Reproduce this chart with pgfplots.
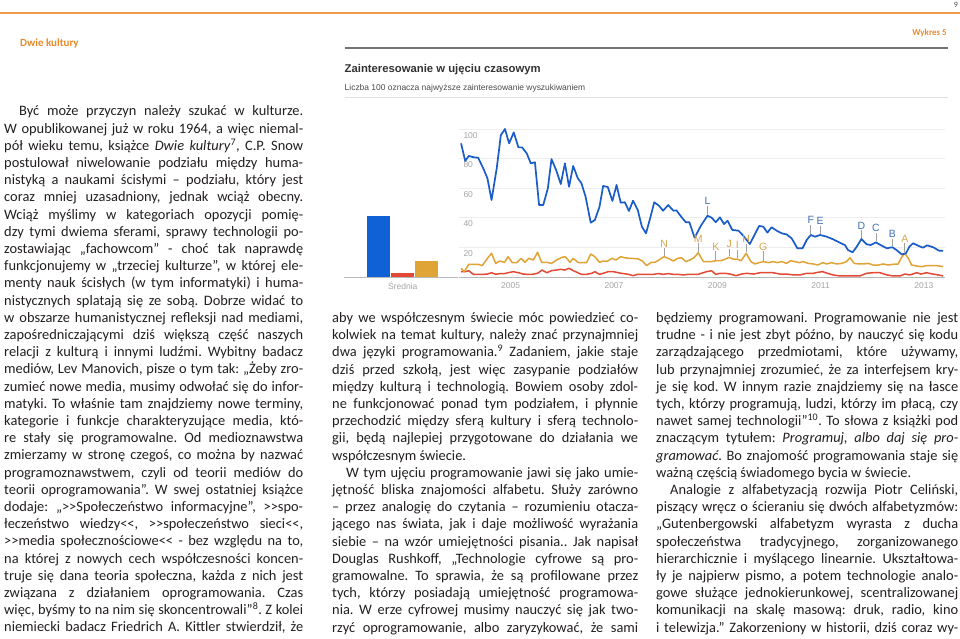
\documentclass[border=0pt]{standalone}
\usepackage{fontspec}
\usepackage{pgfplots}
\pgfplotsset{compat=1.18}
\setmainfont{Carlito}
\newfontfamily\arial{Liberation Sans}
\definecolor{gblue}{HTML}{1A5CC8}
\definecolor{gbar}{HTML}{1060D6}
\definecolor{gred}{HTML}{E24A36}
\definecolor{gorange}{HTML}{E0A336}
\definecolor{hdrorange}{HTML}{EE9A4A}
\definecolor{hdrtext}{HTML}{E98B2A}
\definecolor{gridgray}{HTML}{EDEDED}
\definecolor{basegray}{HTML}{B8B8B8}
\definecolor{labgray}{HTML}{A5A5A5}
\definecolor{blueann}{HTML}{4470B4}
\definecolor{orann}{HTML}{D8A550}
\definecolor{stemgray}{HTML}{A0A0A0}
\definecolor{bodytext}{HTML}{231F20}
\newcommand\RR{>\kern0pt>}
\newcommand\LL{<\kern0pt<}
\newcommand\JL[1]{\makebox[\linewidth][s]{#1}\par}
\newcommand\PL[1]{\makebox[\linewidth][l]{#1}\par}
\newcommand\bodyfont{\fontsize{14.4}{17.2}\selectfont\frenchspacing\spaceskip=0.226em plus 0.3em minus 0.12em\relax}
\begin{document}
\begin{tikzpicture}
\begin{scope}[x=1pt,y=1pt]
\path[use as bounding box, fill=white] (0,0) rectangle (960,638);
% header
\draw[hdrorange, line width=1.6pt] (0,624.7) -- (960,624.7);
\node[anchor=east, inner sep=0, font=\fontsize{8}{9}\selectfont, text=black!70] at (958,633) {9};
\node[anchor=east, inner sep=0, font=\bfseries\fontsize{9}{10}\selectfont, text=hdrtext] at (947,604.7) {Wykres 5};
\node[anchor=west, inner sep=0, font=\bfseries\fontsize{11}{12}\selectfont, text=hdrtext] at (20,594.7) {Dwie kultury};
\draw[black!55, line width=1.6pt] (344.5,590) -- (948,590);
\node[anchor=west, inner sep=0, font=\arial\bfseries\fontsize{11.3}{13}\selectfont, text=black!80] at (344.5,568) {Zainteresowanie w ujęciu czasowym};
\node[anchor=west, inner sep=0, font=\arial\fontsize{8.45}{10}\selectfont, text=black!70] at (344.5,549.7) {Liczba 100 oznacza najwyższe zainteresowanie wyszukiwaniem};
\draw[black!12, line width=0.8pt] (344.5,540.3) -- (948,540.3);

% body text: left column
\node[anchor=base west, inner sep=0, text=bodytext] at (4,522) {\parbox[t]{299pt}{\bodyfont
\JL{\hspace*{15pt}Być może przyczyn należy szukać w kulturze.}
\JL{W opublikowanej już w roku 1964, a więc niemal-}
\JL{pół wieku temu, książce \textit{Dwie kultury}\textsuperscript{7}, C.P. Snow}
\JL{postulował niwelowanie podziału między huma-}
\JL{nistyką a naukami ścisłymi – podziału, który jest}
\JL{coraz mniej uzasadniony, jednak wciąż obecny.}
\JL{Wciąż myślimy w kategoriach opozycji pomię-}
\JL{dzy tymi dwiema sferami, sprawy technologii po-}
\JL{zostawiając „fachowcom” - choć tak naprawdę}
\JL{funkcjonujemy w „trzeciej kulturze”, w której ele-}
\JL{menty nauk ścisłych (w tym informatyki) i huma-}
\JL{nistycznych splatają się ze sobą. Dobrze widać to}
\JL{w obszarze humanistycznej refleksji nad mediami,}
\JL{zapośredniczającymi dziś większą część naszych}
\JL{relacji z kulturą i innymi ludźmi. Wybitny badacz}
\JL{mediów, Lev Manovich, pisze o tym tak: „Żeby zro-}
\JL{zumieć nowe media, musimy odwołać się do infor-}
\JL{matyki. To właśnie tam znajdziemy nowe terminy,}
\JL{kategorie i funkcje charakteryzujące media, któ-}
\JL{re stały się programowalne. Od medioznawstwa}
\JL{zmierzamy w stronę czegoś, co można by nazwać}
\JL{programoznawstwem, czyli od teorii mediów do}
\JL{teorii oprogramowania”. W swej ostatniej książce}
\JL{dodaje: „\RR Społeczeństwo informacyjne”, \RR spo-}
\JL{łeczeństwo wiedzy\LL, \RR społeczeństwo sieci\LL,}
\JL{\RR media społecznościowe\LL{} - bez względu na to,}
\JL{na której z nowych cech współczesności koncen-}
\JL{truje się dana teoria społeczna, każda z nich jest}
\JL{związana z działaniem oprogramowania. Czas}
\JL{więc, byśmy to na nim się skoncentrowali”\textsuperscript{8}. Z kolei}
\JL{niemiecki badacz Friedrich A. Kittler stwierdził, że}
}};

% middle column
\node[anchor=base west, inner sep=0, text=bodytext] at (332,315.6) {\parbox[t]{306pt}{\bodyfont
\JL{aby we współczesnym świecie móc powiedzieć co-}
\JL{kolwiek na temat kultury, należy znać przynajmniej}
\JL{dwa języki programowania.\textsuperscript{9} Zadaniem, jakie staje}
\JL{dziś przed szkołą, jest więc zasypanie podziałów}
\JL{między kulturą i technologią. Bowiem osoby zdol-}
\JL{ne funkcjonować ponad tym podziałem, i płynnie}
\JL{przechodzić między sferą kultury i sferą technolo-}
\JL{gii, będą najlepiej przygotowane do działania we}
\PL{współczesnym świecie.}
\JL{\hspace*{14pt}W tym ujęciu programowanie jawi się jako umie-}
\JL{jętność bliska znajomości alfabetu. Służy zarówno}
\JL{– przez analogię do czytania – rozumieniu otacza-}
\JL{jącego nas świata, jak i daje możliwość wyrażania}
\JL{siebie – na wzór umiejętności pisania.. Jak napisał}
\JL{Douglas Rushkoff, „Technologie cyfrowe są pro-}
\JL{gramowalne. To sprawia, że są profilowane przez}
\JL{tych, którzy posiadają umiejętność programowa-}
\JL{nia. W erze cyfrowej musimy nauczyć się jak two-}
\JL{rzyć oprogramowanie, albo zaryzykować, że sami}
}};

% right column
\node[anchor=base west, inner sep=0, text=bodytext] at (656,315.6) {\parbox[t]{302pt}{\bodyfont
\JL{będziemy programowani. Programowanie nie jest}
\JL{trudne - i nie jest zbyt późno, by nauczyć się kodu}
\JL{zarządzającego przedmiotami, które używamy,}
\JL{lub przynajmniej zrozumieć, że za interfejsem kry-}
\JL{je się kod. W innym razie znajdziemy się na łasce}
\JL{tych, którzy programują, ludzi, którzy im płacą, czy}
\JL{nawet samej technologii”\textsuperscript{10}. To słowa z książki pod}
\JL{znaczącym tytułem: \textit{Programuj, albo daj się pro-}}
\JL{\textit{gramować}. Bo znajomość programowania staje się}
\PL{ważną częścią świadomego bycia w świecie.}
\JL{\hspace*{14pt}Analogie z alfabetyzacją rozwija Piotr Celiński,}
\JL{piszący wręcz o ścieraniu się dwóch alfabetyzmów:}
\JL{„Gutenbergowski alfabetyzm wyrasta z ducha}
\JL{społeczeństwa tradycyjnego, zorganizowanego}
\JL{hierarchicznie i myślącego linearnie. Ukształtowa-}
\JL{ły je najpierw pismo, a potem technologie analo-}
\JL{gowe służące jednokierunkowej, scentralizowanej}
\JL{komunikacji na skalę masową: druk, radio, kino}
\JL{i telewizja.” Zakorzeniony w historii, dziś coraz wy-}
}};
\end{scope}

% bar chart (average)
\begin{axis}[at={(344pt,361pt)}, anchor=south west, scale only axis,
  width=114pt, height=148pt, xmin=0, xmax=114, ymin=0, ymax=100,
  axis line style={draw=none}, tick style={draw=none},
  ytick=\empty, xtick={58.7}, xticklabels={Średnia},
  xticklabel style={font=\arial\fontsize{8.5}{10}\selectfont, text=labgray, anchor=north, inner sep=0, yshift=-5pt},
  clip=false]
\addplot[ybar, bar width=23.3pt, bar shift=0pt, fill=gbar, draw=none] coordinates {(34.35,41.0)};
\addplot[ybar, bar width=23.3pt, bar shift=0pt, fill=gred, draw=none] coordinates {(58.35,2.7)};
\addplot[ybar, bar width=23.3pt, bar shift=0pt, fill=gorange, draw=none] coordinates {(82.65,10.6)};
\draw[basegray, line width=0.9pt] (rel axis cs:0,0) -- (rel axis cs:1,0);
\end{axis}

% line chart; x = years since 2000
\begin{axis}[at={(459pt,361pt)}, anchor=south west, scale only axis,
  width=485.6pt, height=148pt, xmin=4, xmax=13.4, ymin=0, ymax=100,
  axis line style={draw=none}, tick style={draw=none},
  ytick={20,40,60,80,100}, ymajorgrids, grid style={gridgray, line width=0.8pt},
  xtick={5,7,9,11,13}, xticklabels={2005,2007,2009,2011,2013},
  /pgf/number format/assume math mode=true,
  yticklabel style={font=\arial\fontsize{8.5}{10}\selectfont, text=labgray, anchor=north west, inner sep=0, xshift=4.3pt, yshift=-3pt},
  xticklabel style={font=\arial\fontsize{8.5}{10}\selectfont, text=labgray, anchor=north, inner sep=0, yshift=-5pt},
  clip=false]
\addplot[gred, line width=1.5pt, mark=none, line join=round] table {
4.04 3.6
4.12 3.6
4.19 4.2
4.28 1.8
4.37 1.8
4.47 1.8
4.55 2.0
4.63 2.9
4.71 1.8
4.79 2.3
4.88 2.3
4.95 2.9
5.05 3.6
5.15 2.9
5.24 2.0
5.33 1.8
5.42 1.8
5.52 2.5
5.61 4.7
5.70 2.9
5.79 4.3
5.89 4.7
5.97 5.2
6.05 4.7
6.13 5.9
6.21 4.3
6.30 2.9
6.37 1.8
6.47 1.8
6.57 2.5
6.63 3.6
6.72 1.8
6.79 2.5
6.89 3.6
6.99 3.6
7.08 2.9
7.18 2.3
7.28 1.8
7.37 0.9
7.46 1.8
7.57 1.8
7.66 1.8
7.76 1.8
7.86 2.3
7.95 1.8
8.05 2.3
8.15 1.8
8.24 1.8
8.34 1.4
8.44 1.8
8.53 1.8
8.63 1.8
8.79 3.6
8.89 4.2
8.97 1.8
9.05 2.5
9.15 2.5
9.25 2.0
9.36 0.9
9.47 2.0
9.57 2.5
9.70 2.0
9.83 2.9
9.96 2.9
10.08 2.9
10.21 2.0
10.34 2.0
10.47 1.4
10.60 1.4
10.73 2.5
10.86 2.5
10.95 3.2
11.04 3.6
11.13 2.5
11.24 1.4
11.37 0.7
11.50 0.7
11.63 0.7
11.76 0.7
11.89 2.5
12.02 2.9
12.15 2.9
12.28 1.4
12.41 0.7
12.54 0.7
12.63 2.0
12.73 1.4
12.86 2.9
12.94 2.0
13.05 2.9
13.17 2.0
13.28 1.4
13.37 0.7
};
\addplot[gorange, line width=1.5pt, mark=none, line join=round] table {
4.04 5.9
4.10 3.6
4.19 8.6
4.28 8.6
4.37 8.6
4.45 7.7
4.55 12.6
4.63 16.0
4.71 9.2
4.79 10.8
4.88 9.9
4.95 13.7
5.03 9.7
5.12 9.7
5.20 12.6
5.28 9.9
5.35 12.6
5.44 11.5
5.52 16.7
5.60 9.9
5.70 9.9
5.79 9.2
5.89 11.5
5.99 13.3
6.06 13.7
6.15 9.9
6.21 12.6
6.31 9.7
6.41 9.7
6.47 9.7
6.55 15.5
6.63 13.7
6.72 9.9
6.79 10.8
6.88 10.8
6.96 12.6
7.04 11.5
7.13 13.7
7.21 13.0
7.29 12.6
7.37 12.6
7.47 12.2
7.55 10.8
7.63 7.7
7.72 9.9
7.79 9.9
7.87 11.5
7.97 13.7
8.05 12.6
8.15 10.8
8.23 12.6
8.31 13.0
8.39 10.4
8.47 11.5
8.55 13.0
8.63 16.4
8.73 10.4
8.79 10.4
8.89 10.4
8.97 11.0
9.07 11.0
9.15 12.0
9.23 13.3
9.31 12.0
9.39 12.0
9.46 11.0
9.56 16.0
9.65 10.4
9.73 8.8
9.81 9.7
9.89 10.4
9.99 9.7
10.08 10.4
10.16 9.7
10.25 10.4
10.34 9.2
10.42 11.0
10.50 10.4
10.59 9.7
10.66 10.4
10.76 9.2
10.86 8.8
10.95 8.1
11.04 9.7
11.12 8.8
11.21 9.7
11.31 8.8
11.41 9.2
11.50 10.4
11.57 13.0
11.65 9.2
11.74 8.8
11.83 8.8
11.92 9.2
12.02 8.1
12.12 8.1
12.21 8.8
12.31 8.1
12.41 8.6
12.50 8.8
12.57 13.3
12.63 16.0
12.70 12.6
12.76 8.1
12.86 7.4
12.96 7.0
13.05 7.7
13.15 7.7
13.25 7.7
13.37 7.0
};
\addplot[gblue, line width=1.7pt, mark=none, line join=round] table {
4.04 90.3
4.12 78.4
4.19 81.8
4.28 80.9
4.37 80.6
4.47 73.4
4.55 66.7
4.63 52.0
4.73 73.4
4.81 95.9
4.89 100.0
4.97 90.3
5.06 97.7
5.15 87.6
5.22 87.6
5.31 83.6
5.39 76.8
5.47 77.5
5.55 48.6
5.63 48.6
5.72 59.9
5.79 79.7
5.88 72.3
5.97 62.8
6.05 76.8
6.13 61.0
6.21 75.0
6.30 66.7
6.37 63.3
6.45 54.3
6.55 36.7
6.63 38.5
6.72 47.5
6.79 61.5
6.88 60.8
6.97 51.4
7.05 62.2
7.13 50.2
7.21 50.5
7.29 44.6
7.37 51.6
7.46 45.3
7.54 34.0
7.62 29.5
7.70 39.7
7.78 50.5
7.87 48.2
7.95 44.8
8.05 48.6
8.15 44.8
8.21 45.0
8.31 40.3
8.39 37.0
8.46 37.0
8.56 26.5
8.68 34.5
8.81 41.4
8.89 40.1
8.97 37.0
9.05 40.3
9.13 35.8
9.20 38.0
9.29 31.8
9.41 31.3
9.49 28.4
9.63 22.3
9.81 34.5
9.89 34.0
9.97 30.0
10.05 33.6
10.15 31.3
10.25 29.5
10.34 28.8
10.44 26.1
10.55 19.4
10.65 19.4
10.73 25.0
10.81 28.4
10.89 27.2
10.99 28.4
11.12 27.2
11.24 25.5
11.37 23.2
11.47 21.6
11.53 18.2
11.62 16.7
11.70 20.5
11.79 25.7
11.89 22.1
11.97 21.6
12.07 23.4
12.16 21.6
12.28 19.4
12.39 20.1
12.47 18.2
12.57 15.3
12.65 16.0
12.72 20.5
12.79 22.8
12.89 21.1
12.98 19.8
13.06 21.4
13.18 20.1
13.29 17.8
13.37 17.8
};
\draw[basegray, line width=0.9pt] (rel axis cs:0,0) -- (rel axis cs:1,0);
% event annotations
\draw[stemgray, line width=0.7pt] (axis cs:7.97,14.2) -- (axis cs:7.97,19.6);
\node[anchor=south, inner sep=0, font=\arial\fontsize{10.5}{12}\selectfont, text=orann] at (axis cs:7.97,20.1) {N};
\draw[stemgray, line width=0.7pt] (axis cs:8.63,17.0) -- (axis cs:8.63,23.0);
\node[anchor=south, inner sep=0, font=\arial\fontsize{10.5}{12}\selectfont, text=orann] at (axis cs:8.63,23.5) {M};
\draw[stemgray, line width=0.7pt] (axis cs:8.81,42.2) -- (axis cs:8.81,48.2);
\node[anchor=south, inner sep=0, font=\arial\fontsize{10.5}{12}\selectfont, text=blueann] at (axis cs:8.81,48.7) {L};
\draw[stemgray, line width=0.7pt] (axis cs:8.97,11.6) -- (axis cs:8.97,17.3);
\node[anchor=south, inner sep=0, font=\arial\fontsize{10.5}{12}\selectfont, text=orann] at (axis cs:8.97,17.8) {K};
\draw[stemgray, line width=0.7pt] (axis cs:9.23,13.9) -- (axis cs:9.23,19.2);
\node[anchor=south, inner sep=0, font=\arial\fontsize{10.5}{12}\selectfont, text=orann] at (axis cs:9.23,19.7) {J};
\draw[stemgray, line width=0.7pt] (axis cs:9.39,12.6) -- (axis cs:9.39,18.5);
\node[anchor=south, inner sep=0, font=\arial\fontsize{10.5}{12}\selectfont, text=orann] at (axis cs:9.39,19.0) {I};
\draw[stemgray, line width=0.7pt] (axis cs:9.56,16.6) -- (axis cs:9.56,22.5);
\node[anchor=south, inner sep=0, font=\arial\fontsize{10.5}{12}\selectfont, text=orann] at (axis cs:9.56,23.0) {H};
\draw[stemgray, line width=0.7pt] (axis cs:9.89,11.0) -- (axis cs:9.89,17.3);
\node[anchor=south, inner sep=0, font=\arial\fontsize{10.5}{12}\selectfont, text=orann] at (axis cs:9.89,17.8) {G};
\draw[stemgray, line width=0.7pt] (axis cs:10.81,29.1) -- (axis cs:10.81,35.4);
\node[anchor=south, inner sep=0, font=\arial\fontsize{10.5}{12}\selectfont, text=blueann] at (axis cs:10.81,35.9) {F};
\draw[stemgray, line width=0.7pt] (axis cs:10.99,29.1) -- (axis cs:10.99,34.7);
\node[anchor=south, inner sep=0, font=\arial\fontsize{10.5}{12}\selectfont, text=blueann] at (axis cs:10.99,35.2) {E};
\draw[stemgray, line width=0.7pt] (axis cs:11.79,26.4) -- (axis cs:11.79,31.5);
\node[anchor=south, inner sep=0, font=\arial\fontsize{10.5}{12}\selectfont, text=blueann] at (axis cs:11.79,32.0) {D};
\draw[stemgray, line width=0.7pt] (axis cs:12.07,24.1) -- (axis cs:12.07,29.8);
\node[anchor=south, inner sep=0, font=\arial\fontsize{10.5}{12}\selectfont, text=blueann] at (axis cs:12.07,30.3) {C};
\draw[stemgray, line width=0.7pt] (axis cs:12.39,20.8) -- (axis cs:12.39,25.9);
\node[anchor=south, inner sep=0, font=\arial\fontsize{10.5}{12}\selectfont, text=blueann] at (axis cs:12.39,26.4) {B};
\draw[stemgray, line width=0.7pt] (axis cs:12.63,16.6) -- (axis cs:12.63,23.0);
\node[anchor=south, inner sep=0, font=\arial\fontsize{10.5}{12}\selectfont, text=orann] at (axis cs:12.63,23.5) {A};
\end{axis}
\end{tikzpicture}
\end{document}
